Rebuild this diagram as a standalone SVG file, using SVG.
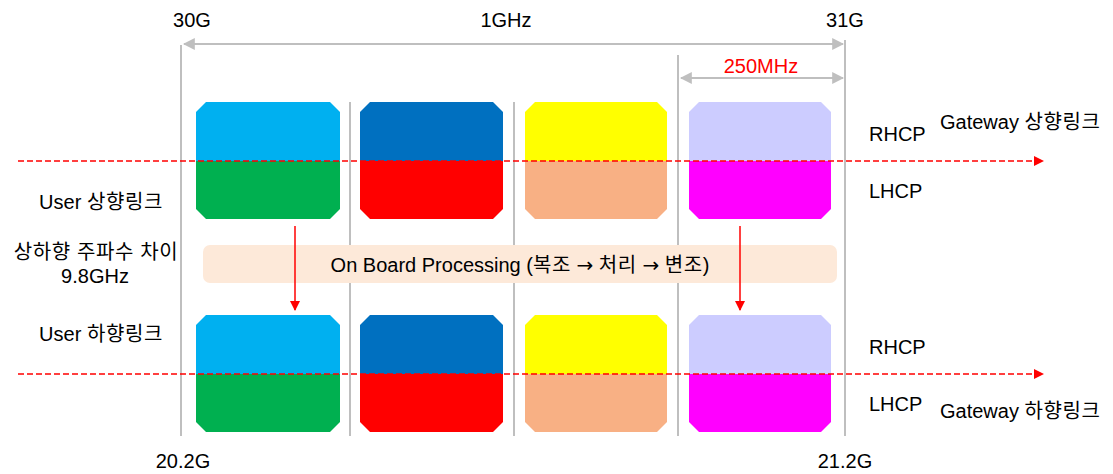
<svg xmlns="http://www.w3.org/2000/svg" width="1113" height="474" viewBox="0 0 1113 474">
<defs>
<style>
text{font-family:"Liberation Sans","Noto Sans CJK KR",sans-serif;font-size:20px;fill:#000}
.red{fill:#FF0000}
.arr{font-family:"DejaVu Sans",sans-serif}
.ko{letter-spacing:0.6px}
.g{stroke:#BFBFBF;stroke-width:2;fill:none}
.dash{stroke:#FF0000;stroke-width:1.5;stroke-dasharray:6 3;fill:none}
.ra{stroke:#FF0000;stroke-width:1.5;fill:none}
</style>
<marker id="gh" viewBox="0 0 10 10" refX="9" refY="5" markerWidth="6" markerHeight="6" orient="auto-start-reverse"><path d="M0,0L10,5L0,10z" fill="#BFBFBF"/></marker>
<marker id="rh2" viewBox="0 0 10 10" refX="9" refY="5" markerWidth="10" markerHeight="10" orient="auto" markerUnits="userSpaceOnUse"><path d="M0,0L10,5L0,10z" fill="#FF0000"/></marker>
</defs>
<g id="grid">
<line class="g" x1="181" y1="45" x2="181" y2="436"/>
<line class="g" x1="350" y1="102" x2="350" y2="436"/>
<line class="g" x1="514" y1="102" x2="514" y2="436"/>
<line class="g" x1="678" y1="55" x2="678" y2="436"/>
<line class="g" x1="845" y1="40" x2="845" y2="436"/>
</g>
<g id="obp">
<rect x="203" y="245" width="634" height="38" rx="7" fill="#FDE9D9"/>
<text x="520" y="272" text-anchor="middle">On Board Processing (<tspan class="ko">복조</tspan> <tspan class="arr">→</tspan> <tspan class="ko">처리</tspan> <tspan class="arr">→</tspan> <tspan class="ko">변조</tspan>)</text>
</g>
<g id="up-blocks">
<g id="u1"><path d="M206,102H330L340,112V161H196V112Z" fill="#00B0F0"/><path d="M196,161H340V209L330,219H206L196,209Z" fill="#00B050"/></g>
<g id="u2"><path d="M370,102H493L503,112V161H360V112Z" fill="#0070C0"/><path d="M360,161H503V209L493,219H370L360,209Z" fill="#FF0000"/></g>
<g id="u3"><path d="M535,102H657L667,112V161H525V112Z" fill="#FFFF00"/><path d="M525,161H667V209L657,219H535L525,209Z" fill="#F8B084"/></g>
<g id="u4"><path d="M699,102H821L831,112V161H689V112Z" fill="#CCCCFF"/><path d="M689,161H831V209L821,219H699L689,209Z" fill="#FF00FF"/></g>
</g>
<g id="down-blocks">
<g id="d1"><path d="M206,315H330L340,325V374H196V325Z" fill="#00B0F0"/><path d="M196,374H340V422L330,432H206L196,422Z" fill="#00B050"/></g>
<g id="d2"><path d="M370,315H493L503,325V374H360V325Z" fill="#0070C0"/><path d="M360,374H503V422L493,432H370L360,422Z" fill="#FF0000"/></g>
<g id="d3"><path d="M535,315H657L667,325V374H525V325Z" fill="#FFFF00"/><path d="M525,374H667V422L657,432H535L525,422Z" fill="#F8B084"/></g>
<g id="d4"><path d="M699,315H821L831,325V374H689V325Z" fill="#CCCCFF"/><path d="M689,374H831V422L821,432H699L689,422Z" fill="#FF00FF"/></g>
</g>
<g id="connectors">
<line class="g" x1="184" y1="44" x2="843" y2="44" marker-start="url(#gh)" marker-end="url(#gh)"/>
<line class="g" x1="681" y1="78" x2="843" y2="78" marker-start="url(#gh)" marker-end="url(#gh)"/>
<line class="dash" x1="18" y1="161" x2="1043" y2="161" marker-end="url(#rh2)"/>
<line class="dash" x1="18" y1="374" x2="1043" y2="374" marker-end="url(#rh2)"/>
<line class="ra" x1="295" y1="226" x2="295" y2="310" marker-end="url(#rh2)"/>
<line class="ra" x1="740" y1="226" x2="740" y2="310" marker-end="url(#rh2)"/>
</g>
<g id="labels">
<text x="192" y="27" text-anchor="middle">30G</text>
<text x="506" y="27" text-anchor="middle">1GHz</text>
<text x="845" y="27" text-anchor="middle">31G</text>
<text x="761" y="73" text-anchor="middle" class="red">250MHz</text>
<text x="183" y="468" text-anchor="middle">20.2G</text>
<text x="845" y="468" text-anchor="middle">21.2G</text>
<text x="869" y="141">RHCP</text>
<text x="869" y="198">LHCP</text>
<text x="940" y="129">Gateway <tspan class="ko">상향링크</tspan></text>
<text x="869" y="354">RHCP</text>
<text x="869" y="411">LHCP</text>
<text x="940" y="418">Gateway <tspan class="ko">하향링크</tspan></text>
<text x="101" y="209" text-anchor="middle">User <tspan class="ko">상향링크</tspan></text>
<text x="96" y="259" text-anchor="middle" class="ko">상하향 주파수 차이</text>
<text x="95" y="283" text-anchor="middle">9.8GHz</text>
<text x="101" y="341" text-anchor="middle">User <tspan class="ko">하향링크</tspan></text>
</g>
</svg>
